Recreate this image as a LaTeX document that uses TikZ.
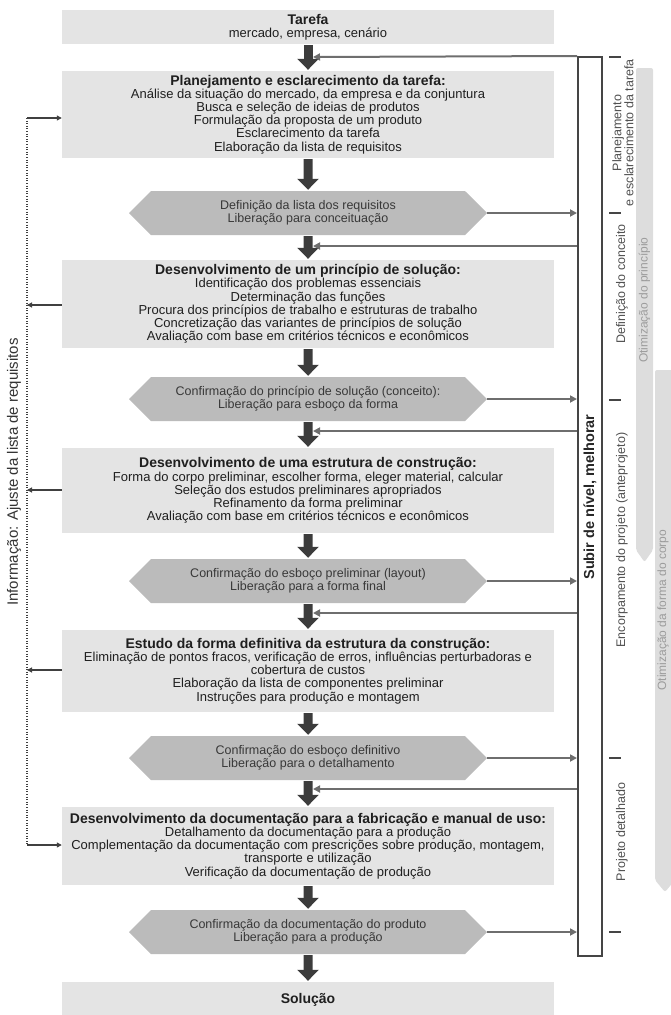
\documentclass[tikz,border=0pt]{standalone}
\usepackage{fontspec}
\setmainfont{Liberation Sans}
\usetikzlibrary{shapes.symbols,arrows.meta,calc}

\definecolor{boxfill}{HTML}{E4E4E4}
\definecolor{hexfill}{HTML}{BBBBBB}
\definecolor{arrowdark}{HTML}{3C3C3C}
\definecolor{linkgray}{HTML}{6E6E6E}
\definecolor{framegray}{HTML}{454545}
\definecolor{barfill}{HTML}{DDDDDD}
\definecolor{bartext}{HTML}{9C9C9C}
\definecolor{phasetext}{HTML}{505050}

\begin{document}
\begin{tikzpicture}[x=1pt,y=-1pt,
  stagebox/.style={fill=boxfill, minimum width=492pt, inner sep=0pt, align=center,
    text=black!88, font=\fontsize{13}{13.2}\selectfont},
  gate/.style={signal, signal to=west and east, signal pointer angle=90, fill=hexfill,
    minimum width=358pt, minimum height=44pt, inner sep=0pt, align=center,
    text=black!78, font=\fontsize{12.5}{13}\selectfont},
  ttl/.style={font=\bfseries\fontsize{14}{14}\selectfont},
  flow/.style={draw=arrowdark, line width=9pt, -{Triangle[length=11pt,width=21pt]},
    shorten <=1pt, shorten >=1pt},
  link/.style={draw=linkgray, line width=2pt, -{Triangle[length=7pt,width=7pt]}},
  infolink/.style={draw=black!75, line width=1.1pt, -{Triangle[length=5pt,width=5pt]}},
  infoline/.style={draw=black!75, line width=1.3pt, dash pattern=on 1pt off 1.6pt},
  phasetick/.style={draw=framegray, line width=2.6pt},
  phaselabel/.style={rotate=90, text=phasetext, align=center,
    font=\fontsize{12.5}{12}\selectfont},
  optbar/.style={fill=barfill, rounded corners=2pt},
  optlabel/.style={rotate=90, text=bartext, font=\fontsize{12}{12}\selectfont}
]
\useasboundingbox (0,0) rectangle (671,1015);

% optimisation bars on the far right
\path[optbar] (636,68) -- (653,68) -- (653,550) -- (644.5,562) -- (636,550) -- cycle;
\path[optbar] (655,370) -- (675,370) -- (675,880) -- (665,892) -- (655,880) -- cycle;
\node[optlabel] (opt1) at (644.5,300) {Otimização do princípio};
\node[optlabel] (opt2) at (663,610) {Otimização da forma do corpo};

% stages of the process
\node[stagebox, minimum height=34pt] (b1) at (308,27)
  {{\bfseries\fontsize{14}{14}\selectfont Tarefa}\\mercado, empresa, cenário};
\node[stagebox, minimum height=87pt] (b2) at (308,114.5)
  {{\bfseries\fontsize{14}{14}\selectfont Planejamento e esclarecimento da tarefa:}\\
   Análise da situação do mercado, da empresa e da conjuntura\\
   Busca e seleção de ideias de produtos\\
   Formulação da proposta de um produto\\
   Esclarecimento da tarefa\\
   Elaboração da lista de requisitos};
\node[gate] (h1) at (308,213)
  {Definição da lista dos requisitos\\Liberação para conceituação};
\node[stagebox, minimum height=88pt] (b3) at (308,304)
  {{\bfseries\fontsize{14}{14}\selectfont Desenvolvimento de um princípio de solução:}\\
   Identificação dos problemas essenciais\\
   Determinação das funções\\
   Procura dos princípios de trabalho e estruturas de trabalho\\
   Concretização das variantes de princípios de solução\\
   Avaliação com base em critérios técnicos e econômicos};
\node[gate] (h2) at (308,399)
  {Confirmação do princípio de solução (conceito):\\Liberação para esboço da forma};
\node[stagebox, minimum height=85pt] (b4) at (308,490.5)
  {{\bfseries\fontsize{14}{14}\selectfont Desenvolvimento de uma estrutura de construção:}\\
   Forma do corpo preliminar, escolher forma, eleger material, calcular\\
   Seleção dos estudos preliminares apropriados\\
   Refinamento da forma preliminar\\
   Avaliação com base em critérios técnicos e econômicos};
\node[gate] (h3) at (308,581)
  {Confirmação do esboço preliminar (layout)\\Liberação para a forma final};
\node[stagebox, minimum height=82pt] (b5) at (308,671)
  {{\bfseries\fontsize{14}{14}\selectfont Estudo da forma definitiva da estrutura da construção:}\\
   Eliminação de pontos fracos, verificação de erros, influências perturbadoras e\\
   cobertura de custos\\
   Elaboração da lista de componentes preliminar\\
   Instruções para produção e montagem};
\node[gate] (h4) at (308,758)
  {Confirmação do esboço definitivo\\Liberação para o detalhamento};
\node[stagebox, minimum height=78pt] (b6) at (308,846)
  {{\bfseries\fontsize{14}{14}\selectfont Desenvolvimento da documentação para a fabricação e manual de uso:}\\
   Detalhamento da documentação para a produção\\
   Complementação da documentação com prescrições sobre produção, montagem,\\
   transporte e utilização\\
   Verificação da documentação de produção};
\node[gate] (h5) at (308,932)
  {Confirmação da documentação do produto\\Liberação para a produção};
\node[stagebox, minimum height=36pt] (b7) at (308,1000)
  {{\bfseries\fontsize{14}{14}\selectfont Solução}};

% main flow
\draw[flow] (b1) -- (b2);
\draw[flow] (b2) -- (h1);
\draw[flow] (h1) -- (b3);
\draw[flow] (b3) -- (h2);
\draw[flow] (h2) -- (b4);
\draw[flow] (b4) -- (h3);
\draw[flow] (h3) -- (b5);
\draw[flow] (b5) -- (h4);
\draw[flow] (h4) -- (b6);
\draw[flow] (b6) -- (h5);
\draw[flow] (h5) -- (b7);

% improvement loop on the right
\node[draw=framegray, line width=2pt, minimum width=24pt, minimum height=899pt,
  inner sep=0pt] (loop) at (590,506.5) {};
\node[rotate=90, font=\bfseries\fontsize{14.5}{15}\selectfont, text=black!85]
  (looplabel) at (590,497) {Subir de nível, melhorar};

\coordinate (fb0) at (313,57);
\coordinate (fb1) at (313,246);
\coordinate (fb2) at (313,431);
\coordinate (fb3) at (313,613);
\coordinate (fb4) at (313,789);

\draw[link] (loop.north west) -- (fb0);
\foreach \h in {h1,h2,h3,h4,h5}
  \draw[link] (\h.east) -- (\h.east -| loop.west);
\foreach \f in {fb1,fb2,fb3,fb4}
  \draw[link] (\f -| loop.west) -- (\f);

% phase boundaries and names
\foreach \y in {57,213,400,758,932}
  \draw[phasetick] (609,\y) -- (621,\y);
\node[phaselabel] (p1) at (623,133) {Planejamento\\e esclarecimento da tarefa};
\node[phaselabel] (p2) at (622,284) {Definição do conceito};
\node[phaselabel] (p3) at (622,540) {Encorpamento do projeto (anteprojeto)};
\node[phaselabel] (p4) at (622,832) {Projeto detalhado};

% information feedback on the left
\coordinate (it) at (27,118);
\coordinate (ib) at (27,845);
\draw[infoline] (it) -- (ib);
\draw[infolink] (it) -- (it -| b2.west);
\draw[infolink] (ib) -- (ib -| b6.west);
\coordinate (i3) at (27,305);
\coordinate (i4) at (27,490);
\coordinate (i5) at (27,670);
\draw[infolink] (i3 -| b3.west) -- (i3);
\draw[infolink] (i4 -| b4.west) -- (i4);
\draw[infolink] (i5 -| b5.west) -- (i5);
\node[rotate=90, font=\fontsize{15}{16}\selectfont, text=black!80] (infolabel)
  at (14,472) {Informação: Ajuste da lista de requisitos};
\end{tikzpicture}
\end{document}
